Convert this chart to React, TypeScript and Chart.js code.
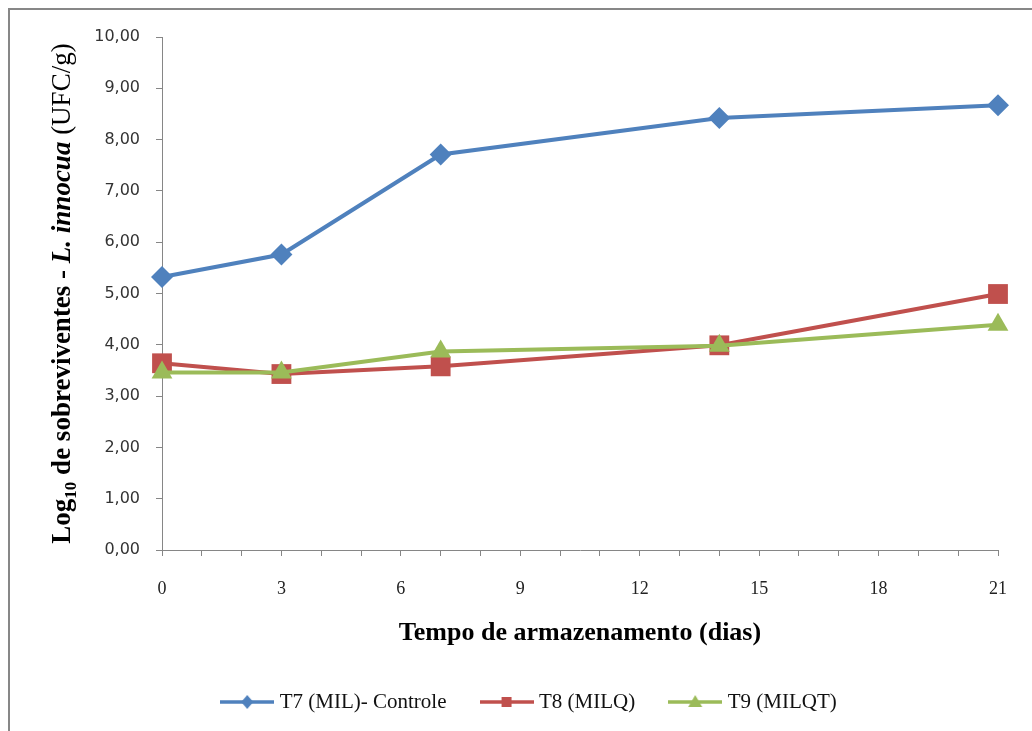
import React, { useEffect, useRef } from 'react';
import { Chart, registerables } from 'chart.js';

Chart.register(...registerables);

// ---- data ----
const days = [0, 3, 7, 14, 21];
const t7Values = [5.32, 5.76, 7.71, 8.42, 8.67];
const t8Values = [3.64, 3.43, 3.58, 3.99, 4.99];
const t9Values = [3.46, 3.46, 3.87, 3.98, 4.39];
const seriesNames = ['T7 (MIL)- Controle', 'T8 (MILQ)', 'T9 (MILQT)'];
const xLabeledTicks = [0, 3, 6, 9, 12, 15, 18, 21];
const yTickLabels = ['0,00', '1,00', '2,00', '3,00', '4,00', '5,00', '6,00', '7,00', '8,00', '9,00', '10,00'];
const xTitle = 'Tempo de armazenamento (dias)';
const yTitleParts = ['Log', '10', ' de sobreviventes - ', 'L. innocua', ' (UFC/g)'];

const BLUE = '#4F81BD';
const RED = '#C0504D';
const GREEN = '#9BBB59';
const AXIS = '#868686';
const SERIF = "'Liberation Serif', 'Times New Roman', serif";

function makeIcon(color: string, kind: 'diamond' | 'square' | 'triangle') {
  const c = document.createElement('canvas');
  c.width = 54;
  c.height = 24;
  const g = c.getContext('2d')!;
  g.strokeStyle = color;
  g.fillStyle = color;
  g.lineWidth = 3.5;
  g.beginPath();
  g.moveTo(0, 12);
  g.lineTo(54, 12);
  g.stroke();
  g.beginPath();
  if (kind === 'diamond') {
    g.moveTo(27, 5); g.lineTo(33, 12); g.lineTo(27, 19); g.lineTo(21, 12);
  } else if (kind === 'square') {
    g.rect(22, 7, 10, 10);
  } else {
    g.moveTo(27, 5); g.lineTo(34, 17); g.lineTo(20, 17);
  }
  g.closePath();
  g.fill();
  return c;
}

const yTitlePlugin = {
  id: 'yTitleRich',
  afterDraw(chart: any) {
    const { ctx, chartArea } = chart;
    const fonts = [
      { font: `bold 27px ${SERIF}`, dy: 0 },
      { font: `bold 17px ${SERIF}`, dy: 6 },
      { font: `bold 27px ${SERIF}`, dy: 0 },
      { font: `italic bold 27px ${SERIF}`, dy: 0 },
      { font: `27px ${SERIF}`, dy: 0 },
    ];
    ctx.save();
    let total = 0;
    const widths = yTitleParts.map((t, i) => {
      ctx.font = fonts[i].font;
      const w = ctx.measureText(t).width;
      total += w;
      return w;
    });
    const cy = (chartArea.top + chartArea.bottom) / 2;
    ctx.translate(chartArea.left - 92, cy);
    ctx.rotate(-Math.PI / 2);
    ctx.fillStyle = '#000';
    ctx.textBaseline = 'alphabetic';
    ctx.textAlign = 'left';
    let x = -total / 2;
    yTitleParts.forEach((t, i) => {
      ctx.font = fonts[i].font;
      ctx.fillText(t, x, fonts[i].dy);
      x += widths[i];
    });
    ctx.restore();
  },
};

export default function App() {
  const ref = useRef<HTMLCanvasElement | null>(null);

  useEffect(() => {
    if (!ref.current) return;
    const icons = [makeIcon(BLUE, 'diamond'), makeIcon(RED, 'square'), makeIcon(GREEN, 'triangle')];
    const mk = (vals: number[]) => days.map((d, i) => ({ x: d, y: vals[i] }));
    const chart = new Chart(ref.current, {
      type: 'line',
      data: {
        datasets: [
          {
            label: seriesNames[0],
            data: mk(t7Values),
            borderColor: BLUE,
            backgroundColor: BLUE,
            borderWidth: 4,
            pointStyle: 'rectRot',
            pointRadius: 11,
            pointBorderWidth: 0,
            tension: 0,
            clip: false,
            order: 2,
          },
          {
            label: seriesNames[1],
            data: mk(t8Values),
            borderColor: RED,
            backgroundColor: RED,
            borderWidth: 4,
            pointStyle: 'rect',
            pointRadius: 14,
            pointBorderWidth: 0,
            tension: 0,
            clip: false,
            order: 1,
          },
          {
            label: seriesNames[2],
            data: mk(t9Values),
            borderColor: GREEN,
            backgroundColor: GREEN,
            borderWidth: 4,
            pointStyle: 'triangle',
            pointRadius: 12,
            pointBorderWidth: 0,
            tension: 0,
            clip: false,
            order: 0,
          },
        ],
      },
      options: {
        animation: false,
        responsive: true,
        maintainAspectRatio: false,
        layout: { padding: { left: 30, right: 0, top: 37, bottom: 8.5 } },
        plugins: {
          tooltip: { enabled: false },
          legend: {
            position: 'bottom',
            labels: {
              usePointStyle: true,
              pointStyleWidth: 44,
              font: { family: SERIF, size: 21 },
              color: '#111',
              padding: 38,
              sort: (a: any, b: any) => a.datasetIndex - b.datasetIndex,
              generateLabels: (ch: any) => {
                const items = (Chart.defaults.plugins.legend.labels as any).generateLabels(ch);
                return items.map((it: any) => ({ ...it, pointStyle: icons[it.datasetIndex] }));
              },
            },
          },
        },
        scales: {
          x: {
            type: 'linear',
            min: 0,
            max: 21,
            ticks: {
              stepSize: 1,
              autoSkip: false,
              maxRotation: 0,
              padding: 22,
              color: '#222',
              font: { family: SERIF, size: 18 },
              callback: (v: any) => (xLabeledTicks.includes(Number(v)) ? String(v) : ''),
            },
            grid: { drawOnChartArea: false, color: AXIS, tickColor: AXIS, tickLength: 6 },
            border: { color: AXIS },
            title: {
              display: true,
              text: xTitle,
              color: '#000',
              font: { family: SERIF, size: 26, weight: 'bold' },
              padding: { top: 0, bottom: 5 },
            },
            afterFit: (s: any) => {
              s.height = 103.5;
            },
          },
          y: {
            min: 0,
            max: 10,
            ticks: {
              stepSize: 1,
              padding: 16,
              color: '#333',
              font: { family: "'DejaVu Sans', Verdana, sans-serif", size: 16 },
              callback: (v: any) => yTickLabels[Math.round(Number(v))],
            },
            grid: { drawOnChartArea: false, color: AXIS, tickColor: AXIS, tickLength: 6 },
            border: { color: AXIS },
            afterFit: (s: any) => {
              s.width = 132;
            },
          },
          y2: {
            position: 'right',
            display: true,
            grid: { display: false },
            ticks: { display: false },
            border: { display: false },
            afterFit: (s: any) => {
              s.width = 34;
            },
          },
        },
      } as any,
      plugins: [yTitlePlugin],
    });
    return () => chart.destroy();
  }, []);

  return (
    <>
      <div
        style={{
          position: 'fixed',
          left: 8,
          top: 8,
          width: 1024,
          height: 723,
          boxSizing: 'border-box',
          borderTop: '2px solid #878787',
          borderLeft: '2px solid #878787',
        }}
      />
      <div style={{ position: 'fixed', left: 0, top: 0, width: 1032, height: 731 }}>
        <canvas ref={ref} />
      </div>
    </>
  );
}
